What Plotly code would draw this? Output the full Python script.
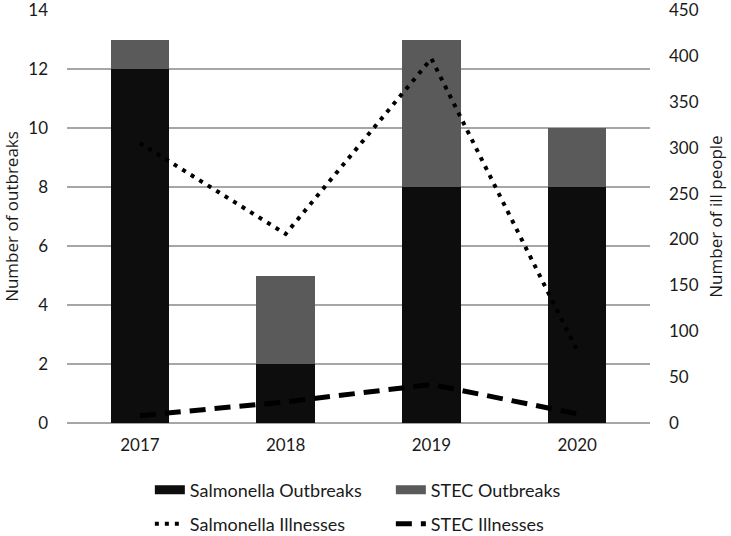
import plotly.graph_objects as go

years = ["2017", "2018", "2019", "2020"]
salmonella_outbreaks = [12, 2, 8, 8]
stec_outbreaks = [1, 3, 5, 2]
salmonella_ill = [305, 206, 397, 79]
stec_ill = [8, 23, 42, 10]

salmonella_color = "#0d0d0d"
stec_color = "#5a5a5a"

tick_font = dict(family="Lato, Carlito, sans-serif", size=17, color="#1a1a1a")
title_font = dict(family="Open Sans", size=17, color="#1a1a1a")
legend_font = dict(family="Lato, sans-serif", size=18, color="#1a1a1a")

fig = go.Figure()
fig.add_trace(go.Bar(x=years, y=salmonella_outbreaks, name="Salmonella Outbreaks",
                     marker=dict(color=salmonella_color, line=dict(width=0)),
                     legendgroup="sal_bar", showlegend=False))
fig.add_trace(go.Bar(x=years, y=stec_outbreaks, name="STEC Outbreaks",
                     marker=dict(color=stec_color, line=dict(width=0)),
                     legendgroup="stec_bar", showlegend=False))
# legend keys drawn as wide blocks, like the reference's bar swatches
fig.add_trace(go.Scatter(x=[None], y=[None], mode="lines", name="Salmonella Outbreaks",
                         line=dict(color=salmonella_color, width=9),
                         legendgroup="sal_bar", legend="legend"))
fig.add_trace(go.Scatter(x=[None], y=[None], mode="lines", name="STEC Outbreaks",
                         line=dict(color=stec_color, width=9),
                         legendgroup="stec_bar", legend="legend"))
fig.add_trace(go.Scatter(x=years, y=salmonella_ill, name="Salmonella Illnesses", yaxis="y2",
                         mode="lines", line=dict(color="#000000", width=4, dash="4px,6px"),
                         legend="legend2"))
fig.add_trace(go.Scatter(x=years, y=stec_ill, name="STEC Illnesses", yaxis="y2",
                         mode="lines", line=dict(color="#000000", width=5, dash="16px,9px"),
                         legend="legend2"))

fig.update_layout(
    width=731, height=536,
    margin=dict(l=67, r=81, t=10, b=113, autoexpand=False),
    paper_bgcolor="white", plot_bgcolor="white",
    barmode="stack", bargap=0.6,
    showlegend=True,
    legend=dict(orientation="h", xref="container", yref="container",
                x=0.205, xanchor="left", y=1 - 490 / 536, yanchor="middle",
                entrywidth=196, font=legend_font, traceorder="normal"),
    legend2=dict(orientation="h", xref="container", yref="container",
                 x=0.205, xanchor="left", y=1 - 524 / 536, yanchor="middle",
                 entrywidth=196, font=legend_font, traceorder="normal"),
    xaxis=dict(tickfont=tick_font, showgrid=False, showline=False, ticks="",
               automargin=False, ticklabelstandoff=10),
    yaxis=dict(range=[0, 14], dtick=2, tickfont=tick_font, showgrid=True,
               gridcolor="#a6a6a6", gridwidth=1.5, zeroline=True, zerolinecolor="#a6a6a6",
               zerolinewidth=1.5, showline=False, automargin=False, ticklabelstandoff=18,
               ticklabeloverflow="allow",
               title=dict(text="Number of outbreaks", font=title_font, standoff=12)),
    yaxis2=dict(range=[0, 450], dtick=50, overlaying="y", side="right", showgrid=False,
                zeroline=False, showline=False, tickfont=tick_font, automargin=False,
                ticklabelstandoff=18, ticklabeloverflow="allow",
                title=dict(text="Number of ill people", font=title_font, standoff=12)),
)

# drop the browser's default 8px body margin so the figure sits at the window's corner
fig.write_html("out.html", config={"displayModeBar": False},
               post_script="document.body.style.margin='0';")
